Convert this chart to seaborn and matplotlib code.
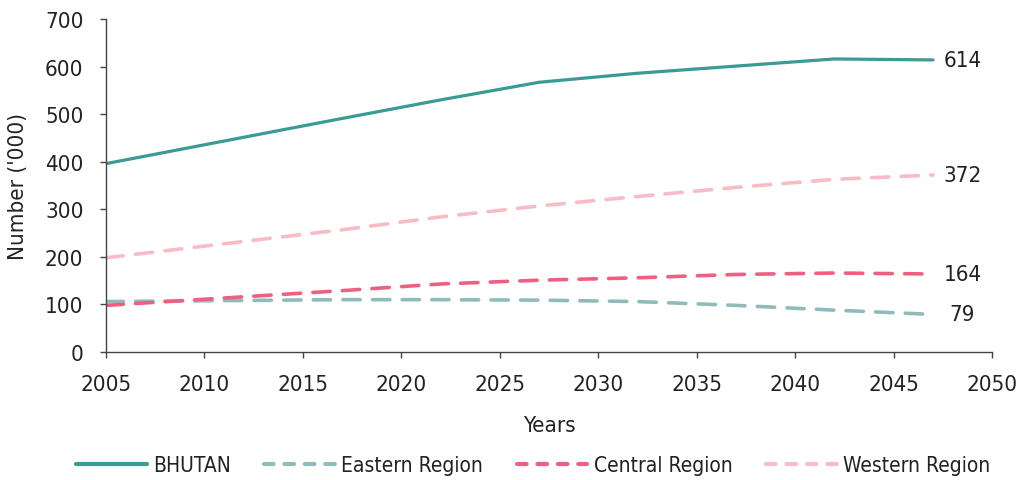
import matplotlib
matplotlib.use("Agg")
import matplotlib.pyplot as plt
from matplotlib.lines import Line2D
import seaborn as sns
import pandas as pd

# Projected numbers ('000) by region
years = [2005, 2017, 2022, 2027, 2032, 2037, 2042, 2047]
bhutan = [396, 491, 530, 567, 586, 601, 616, 614]
eastern = [106, 110, 110, 109, 106, 98, 88, 79]
central = [98, 129, 143, 151, 156, 163, 166, 164]
western = [198, 257, 284, 307, 327, 346, 363, 372]

series_names = ["BHUTAN", "Eastern Region", "Central Region", "Western Region"]
series_values = [bhutan, eastern, central, western]
end_labels = ["614", "79", "164", "372"]

colors = ["#3a9a94", "#8fbcba", "#ef5f80", "#f8bcc5"]
dashed = [False, True, True, True]

sns.set_theme(style="ticks")
plt.rcParams["font.family"] = ["DejaVu Sans"]
plt.rcParams["font.stretch"] = "condensed"
text_color = "#222222"
fs = 16

fig = plt.figure(figsize=(10.24, 4.81), dpi=100)
ax = fig.add_axes([106 / 1024, 1 - 353 / 481, 886 / 1024, 333 / 481])

handles = []
for name, vals, col, dsh in zip(series_names, series_values, colors, dashed):
    df = pd.DataFrame({"Years": years, "Number": vals})
    sns.lineplot(data=df, x="Years", y="Number", ax=ax, color=col,
                 linewidth=2.3 if not dsh else 2.6, legend=False)
    ln = ax.lines[-1]
    ln.set_solid_capstyle("round")
    if dsh:
        ln.set_dash_capstyle("round")
        ln.set_dashes((4.8, 3.4))
    h = Line2D([], [], color=col, linewidth=3.0, solid_capstyle="round",
               dash_capstyle="round")
    if dsh:
        h.set_dashes((2.3, 2.6))
    handles.append(h)

# Value labels at the end of each line
for vals, lab in zip(series_values, end_labels):
    ax.text(2048.5, float(lab), lab, ha="center", va="center",
            fontsize=fs, color=text_color)

ax.set_xlim(2005, 2050)
ax.set_ylim(0, 700)
ax.set_xticks(range(2005, 2051, 5))
ax.set_yticks(range(0, 701, 100))
ax.tick_params(axis="both", labelsize=fs, colors="#444444", labelcolor=text_color,
               length=4.2, width=1.0, pad=12, direction="out")

for side in ["top", "right"]:
    ax.spines[side].set_visible(False)
for side in ["left", "bottom"]:
    ax.spines[side].set_color("#444444")
    ax.spines[side].set_linewidth(1.0)

ax.set_xlabel("Years", fontsize=fs, color=text_color)
ax.set_ylabel("Number ('000)", fontsize=fs, color=text_color)
ax.xaxis.set_label_coords(0.5, (353 - 426) / 333)
ax.xaxis.label.set_va("center")
ax.yaxis.set_label_coords((18 - 106) / 886, 0.5)
ax.yaxis.label.set_va("center")

leg = fig.legend(handles, series_names, loc="center",
                 bbox_to_anchor=(533 / 1024, 1 - 466 / 481), ncol=4,
                 frameon=False, fontsize=15, handlelength=3.4,
                 handletextpad=0.3, columnspacing=1.6)
for t in leg.get_texts():
    t.set_color(text_color)

fig.savefig("out.png", dpi=100)
